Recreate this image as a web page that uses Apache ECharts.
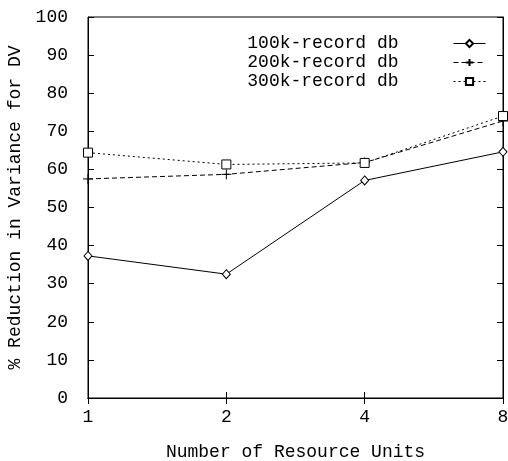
<!DOCTYPE html>
<html><head><meta charset="utf-8">
<script src="https://cdn.jsdelivr.net/npm/echarts@6/dist/echarts.min.js"></script>
<style>html,body{margin:0;padding:0;background:#fff}#c{width:508px;height:461px}</style>
</head><body><div id="c"></div>
<script>
const categories = ['1', '2', '4', '8'];
const s100k = [37.3, 32.5, 57.1, 64.6];
const s200k = [57.5, 58.7, 61.8, 72.7];
const s300k = [64.4, 61.3, 61.7, 74.0];
const seriesNames = ['100k-record db', '200k-record db', '300k-record db'];

const FONT = '"Liberation Mono", "DejaVu Sans Mono", monospace';
const chart = echarts.init(document.getElementById('c'), null, {renderer: 'canvas'});
const tickStyle = {show: true, inside: true, length: 6, lineStyle: {color: '#000', width: 1}};
const plus = 'path://M0,5 L10,5 M5,0 L5,10';
chart.setOption({
  animation: false,
  backgroundColor: '#fff',
  grid: {left: 88, right: 5, top: 17, bottom: 63, show: true, borderColor: '#000', borderWidth: 1,
         outerBoundsMode: 'none', containLabel: false},
  legend: {
    right: 17, top: 29, orient: 'vertical', align: 'right', itemGap: 0,
    itemWidth: 32, itemHeight: 9,
    lineStyle: {width: 1},
    textStyle: {fontFamily: FONT, fontSize: 18, color: '#000', padding: [0, 50, 0, 0], lineHeight: 19},
    data: seriesNames
  },
  xAxis: [{
    type: 'category', data: categories, boundaryGap: false,
    axisLine: {show: true, lineStyle: {color: '#000', width: 1}},
    axisTick: tickStyle,
    axisLabel: {fontFamily: FONT, fontSize: 18, color: '#000', margin: 10},
    splitLine: {show: false},
    name: 'Number of Resource Units', nameLocation: 'middle', nameGap: 45,
    nameTextStyle: {fontFamily: FONT, fontSize: 18, color: '#000'}
  }, {
    type: 'category', data: categories, boundaryGap: false, position: 'top',
    axisLine: {show: true, lineStyle: {color: '#000'}},
    axisTick: tickStyle, axisLabel: {show: false}
  }],
  yAxis: [{
    type: 'value', min: 0, max: 100, interval: 10,
    axisLine: {show: true, lineStyle: {color: '#000', width: 1}},
    axisTick: tickStyle,
    axisLabel: {fontFamily: FONT, fontSize: 18, color: '#000', margin: 20},
    splitLine: {show: false},
    name: '% Reduction in Variance for DV', nameLocation: 'middle', nameGap: 61,
    nameTextStyle: {fontFamily: FONT, fontSize: 18, color: '#000'}
  }, {
    type: 'value', min: 0, max: 100, interval: 10, position: 'right',
    axisLine: {show: true, lineStyle: {color: '#000'}},
    axisTick: tickStyle, axisLabel: {show: false}, splitLine: {show: false}
  }],
  series: [{
    name: seriesNames[0], type: 'line', data: s100k,
    symbol: 'diamond', symbolSize: [8, 9], showAllSymbol: true,
    lineStyle: {color: '#000', width: 1, type: 'solid'},
    itemStyle: {color: '#fff', borderColor: '#000', borderWidth: 1}
  }, {
    name: seriesNames[1], type: 'line', data: s200k,
    symbol: plus, symbolSize: 10, showAllSymbol: true,
    lineStyle: {color: '#000', width: 1, type: [5, 3]},
    itemStyle: {color: 'none', borderColor: '#000', borderWidth: 1}
  }, {
    name: seriesNames[2], type: 'line', data: s300k,
    symbol: 'rect', symbolSize: 9, showAllSymbol: true,
    lineStyle: {color: '#000', width: 1, type: [2, 3]},
    itemStyle: {color: '#fff', borderColor: '#000', borderWidth: 1}
  }]
});
</script></body></html>
